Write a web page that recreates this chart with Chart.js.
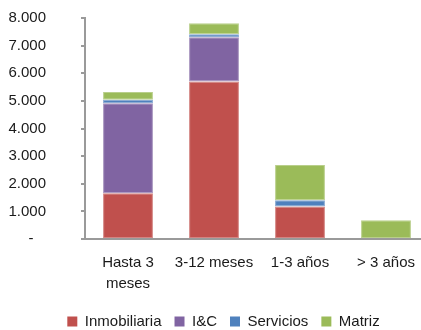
<!DOCTYPE html>
<html>
<head>
<meta charset="utf-8">
<script src="https://cdn.jsdelivr.net/npm/chart.js@4"></script>
<style>
  html, body { margin: 0; padding: 0; background: #fff; overflow: hidden; }
  #wrap { width: 447px; height: 330px; }
</style>
</head>
<body>
<div id="wrap"><canvas id="c" width="447" height="330"></canvas></div>
<script>
// Vencimientos por plazo (stacked by business line); null = no segment
const categories = [['Hasta 3', 'meses'], '3-12 meses', '1-3 años', '> 3 años'];
const inmobiliaria = [1660, 5700, 1180, null];
const iyc = [3250, 1600, null, null];
const servicios = [130, 110, 220, null];
const matriz = [280, 400, 1280, 680];
const yTicks = [0, 1000, 2000, 3000, 4000, 5000, 6000, 7000, 8000];

const fontFamily = "'Liberation Sans', Arial, sans-serif";
const textColor = '#1a1a1a';
const axisColor = '#9a9a9a';

function fmt(v) {
  if (v === 0) return '-   ';
  return v.toLocaleString('de-DE');
}

// fill colour plus a lighter edge tone for each segment
const seg = (label, data, color, edge) => ({
  label, data,
  backgroundColor: color,
  borderColor: edge,
  borderWidth: 1,
  borderSkipped: false,
  categoryPercentage: 1.0,
  barPercentage: 0.58
});

new Chart(document.getElementById('c'), {
  type: 'bar',
  data: {
    labels: categories,
    datasets: [
      seg('Inmobiliaria', inmobiliaria, '#C0504D', '#D38482'),
      seg('I&C', iyc, '#8064A2', '#A693BE'),
      seg('Servicios', servicios, '#4F81BD', '#84A7D1'),
      seg('Matriz', matriz, '#9BBB59', '#B9CF8B')
    ]
  },
  options: {
    responsive: false,
    animation: false,
    layout: { padding: { left: 0, top: 18, right: 0, bottom: -9 } },
    plugins: {
      tooltip: { enabled: false },
      legend: {
        position: 'bottom',
        labels: {
          boxWidth: 10,
          boxHeight: 10,
          padding: 13,
          color: textColor,
          font: { family: fontFamily, size: 15 },
          generateLabels: (chart) => chart.data.datasets.map((d, i) => ({
            text: d.label,
            fillStyle: d.backgroundColor,
            strokeStyle: d.backgroundColor,
            lineWidth: 0,
            fontColor: textColor,
            datasetIndex: i,
            hidden: false
          }))
        }
      }
    },
    scales: {
      x: {
        stacked: true,
        grid: { drawOnChartArea: false, drawTicks: false },
        border: { display: true, color: axisColor, width: 2 },
        ticks: {
          color: textColor,
          padding: 14,
          maxRotation: 0,
          autoSkip: false,
          font: { family: fontFamily, size: 15, lineHeight: 1.35 }
        },
        afterFit: (s) => { s.paddingLeft = 0; s.paddingRight = 18; s.height = 62; }
      },
      y: {
        stacked: true,
        min: 0,
        max: 8000,
        afterBuildTicks: (scale) => { scale.ticks = yTicks.map(v => ({ value: v })); },
        grid: { drawOnChartArea: false, drawTicks: true, tickLength: 4, color: axisColor, lineWidth: 2 },
        border: { display: true, color: axisColor, width: 2 },
        ticks: {
          color: textColor,
          padding: 35,
          callback: (v) => fmt(v),
          font: { family: fontFamily, size: 15 }
        },
        afterFit: (s) => { s.width = 85; s.paddingTop = 8; s.paddingBottom = 8; }
      }
    }
  }
});
</script>
</body>
</html>
